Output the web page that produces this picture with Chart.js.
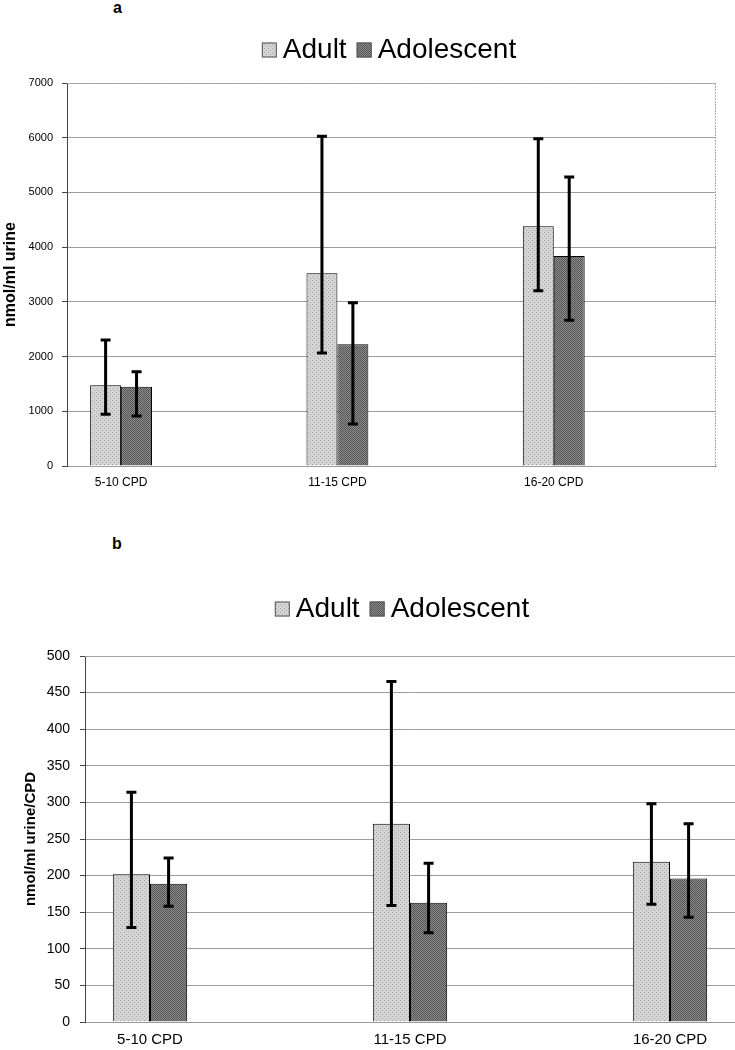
<!DOCTYPE html>
<html>
<head>
<meta charset="utf-8">
<script src="https://cdn.jsdelivr.net/npm/chart.js@4.4.0/dist/chart.umd.min.js"></script>
<style>
  body { margin: 0; background: #fff; width: 735px; height: 1050px; overflow: hidden; position: relative; font-family: "Liberation Sans", Arial, sans-serif; }
  canvas { position: absolute; left: 0; }
  #chartA { top: 0; }
  #chartB { top: 560px; }
  .panel { position: absolute; font-weight: bold; font-size: 16px; }
</style>
</head>
<body>
<div class="panel" style="left:113px; top:-1px;">a</div>
<div class="panel" style="left:112px; top:535px;">b</div>
<canvas id="chartA" width="735" height="520"></canvas>
<canvas id="chartB" width="735" height="490"></canvas>
<script>
var categories = ['5-10 CPD', '11-15 CPD', '16-20 CPD'];

// panel a: nmol/ml urine
var adultA = [1475, 3522, 4381];
var adultLowA = [945, 2065, 3205];
var adultHighA = [2303, 6026, 5983];
var adolA = [1450, 2224, 3838];
var adolLowA = [914, 768, 2663];
var adolHighA = [1724, 2985, 5282];

// panel b: nmol/ml urine/CPD
var adultB = [202, 271, 219];
var adultLowB = [129, 159, 161];
var adultHighB = [314, 465, 298];
var adolB = [189, 163, 196];
var adolLowB = [158, 122, 143];
var adolHighB = [224, 217, 271];

var family = '"Liberation Sans", Arial, sans-serif';

function dots(base, dot, step) {
  var c = document.createElement('canvas');
  c.width = c.height = step;
  var g = c.getContext('2d');
  g.fillStyle = base;
  g.fillRect(0, 0, step, step);
  g.fillStyle = dot;
  g.fillRect(0, 0, 1, 1);
  g.fillRect(step / 2, step / 2, 1, 1);
  return g.createPattern(c, 'repeat');
}
var adultFill = dots('#d4d4d4', '#a4a4a4', 4);
var adolFill = dots('#8c8c8c', '#555555', 2);

function points(values) {
  return values.map(function (v, i) { return { x: i, y: v }; });
}

var errorBars = {
  id: 'errorBars',
  afterDatasetsDraw: function (chart) {
    var ctx = chart.ctx;
    var y = chart.scales.y;
    ctx.save();
    ctx.strokeStyle = '#000';
    ctx.lineWidth = 3;
    chart.data.datasets.forEach(function (ds, i) {
      chart.getDatasetMeta(i).data.forEach(function (bar, j) {
        var lo = y.getPixelForValue(ds.errLow[j]);
        var hi = y.getPixelForValue(ds.errHigh[j]);
        ctx.beginPath();
        ctx.moveTo(bar.x, hi);
        ctx.lineTo(bar.x, lo);
        ctx.moveTo(bar.x - 5, hi);
        ctx.lineTo(bar.x + 5, hi);
        ctx.moveTo(bar.x - 5, lo);
        ctx.lineTo(bar.x + 5, lo);
        ctx.stroke();
      });
    });
    ctx.restore();
  }
};

var boxLegend = {
  id: 'boxLegend',
  afterDraw: function (chart, args, opts) {
    var ctx = chart.ctx;
    ctx.save();
    ctx.font = opts.font;
    ctx.textBaseline = 'middle';
    var items = chart.data.datasets.map(function (ds) {
      return { text: ds.label, fill: ds.backgroundColor, w: ctx.measureText(ds.label).width };
    });
    var total = 0;
    items.forEach(function (it, i) { total += opts.box + opts.gap + it.w + (i ? opts.itemGap : 0); });
    var x = opts.cx - total / 2;
    items.forEach(function (it) {
      ctx.fillStyle = it.fill;
      ctx.fillRect(x, opts.cy - opts.box / 2, opts.box, opts.box);
      ctx.strokeStyle = '#555';
      ctx.lineWidth = 1;
      ctx.strokeRect(x + 0.5, opts.cy - opts.box / 2 + 0.5, opts.box - 1, opts.box - 1);
      x += opts.box + opts.gap;
      ctx.fillStyle = '#000';
      ctx.fillText(it.text, x, opts.cy);
      x += it.w + opts.itemGap;
    });
    ctx.restore();
  }
};

var plotFrame = {
  id: 'plotFrame',
  beforeDatasetsDraw: function (chart, args, opts) {
    var a = chart.chartArea;
    var ctx = chart.ctx;
    ctx.save();
    ctx.strokeStyle = '#a8a8a8';
    ctx.lineWidth = 1;
    ctx.setLineDash([2, 1]);
    ctx.beginPath();
    ctx.moveTo(a.left, Math.round(a.top) + 0.5);
    ctx.lineTo(a.right, Math.round(a.top) + 0.5);
    if (opts.right) {
      ctx.moveTo(Math.round(a.right) - 0.5, a.top);
      ctx.lineTo(Math.round(a.right) - 0.5, a.bottom);
    }
    ctx.stroke();
    ctx.restore();
  }
};

function makeChart(el, cfg) {
  return new Chart(el, {
    type: 'bar',
    data: {
      datasets: [{
        label: 'Adult',
        data: points(cfg.adult),
        errLow: cfg.adultLow,
        errHigh: cfg.adultHigh,
        backgroundColor: adultFill,
        borderColor: '#000',
        borderWidth: 1
      }, {
        label: 'Adolescent',
        data: points(cfg.adol),
        errLow: cfg.adolLow,
        errHigh: cfg.adolHigh,
        backgroundColor: adolFill,
        borderColor: '#000',
        borderWidth: 1
      }]
    },
    options: {
      responsive: false,
      animation: false,
      devicePixelRatio: 1,
      layout: { padding: cfg.padding },
      datasets: { bar: { categoryPercentage: 0.286, barPercentage: 1 } },
      plugins: {
        legend: { display: false },
        tooltip: { enabled: false },
        boxLegend: { cx: cfg.legendX, cy: cfg.legendY, font: '28px ' + family, box: 15, gap: 6, itemGap: 10 },
        plotFrame: { right: cfg.frameRight }
      },
      scales: {
        x: {
          type: 'linear',
          offset: false,
          min: -0.25,
          max: cfg.xMax,
          afterBuildTicks: function (s) {
            s.ticks = categories.map(function (c, i) { return { value: i }; });
          },
          afterFit: function (s) { s.height = cfg.xHeight; },
          ticks: {
            callback: function (v) { return categories[v]; },
            font: { size: cfg.catSize, family: family },
            color: '#000',
            padding: cfg.catPad,
            maxRotation: 0,
            autoSkip: false
          },
          grid: { offset: false, drawOnChartArea: false, drawTicks: false },
          border: { color: '#9a9a9a' }
        },
        y: {
          min: 0,
          max: cfg.yMax,
          afterFit: function (s) { s.width = cfg.yWidth; },
          ticks: {
            stepSize: cfg.yStep,
            callback: function (v) { return String(v); },
            font: { size: cfg.tickSize, family: family },
            color: '#000',
            padding: cfg.tickPad
          },
          grid: { color: '#9e9e9e', tickLength: 5, tickColor: '#444' },
          border: { color: '#444' },
          title: {
            display: true,
            text: cfg.yTitle,
            font: { size: cfg.titleSize, weight: 'bold', family: family },
            color: '#000',
            padding: { top: cfg.titlePad, bottom: 0 }
          }
        }
      }
    },
    plugins: [plotFrame, errorBars, boxLegend]
  });
}

makeChart(document.getElementById('chartA'), {
  adult: adultA, adultLow: adultLowA, adultHigh: adultHighA,
  adol: adolA, adolLow: adolLowA, adolHigh: adolHighA,
  padding: { top: 83, right: 19, bottom: 24, left: 0 },
  legendX: 389, legendY: 50, frameRight: true,
  xMax: 2.75, xHeight: 30, catSize: 12, catPad: 9,
  yMax: 7000, yStep: 1000, yWidth: 67, tickSize: 11, tickPad: 9,
  yTitle: 'nmol/ml urine', titleSize: 16, titlePad: 1
});

makeChart(document.getElementById('chartB'), {
  adult: adultB, adultLow: adultLowB, adultHigh: adultHighB,
  adol: adolB, adolLow: adolLowB, adolHigh: adolHighB,
  padding: { top: 96, right: 0, bottom: 0, left: 0 },
  legendX: 402, legendY: 49, frameRight: false,
  xMax: 2.25, xHeight: 28, catSize: 15, catPad: 9,
  yMax: 500, yStep: 50, yWidth: 85, tickSize: 14, tickPad: 10,
  yTitle: 'nmol/ml urine/CPD', titleSize: 15, titlePad: 22
});
</script>
</body>
</html>
